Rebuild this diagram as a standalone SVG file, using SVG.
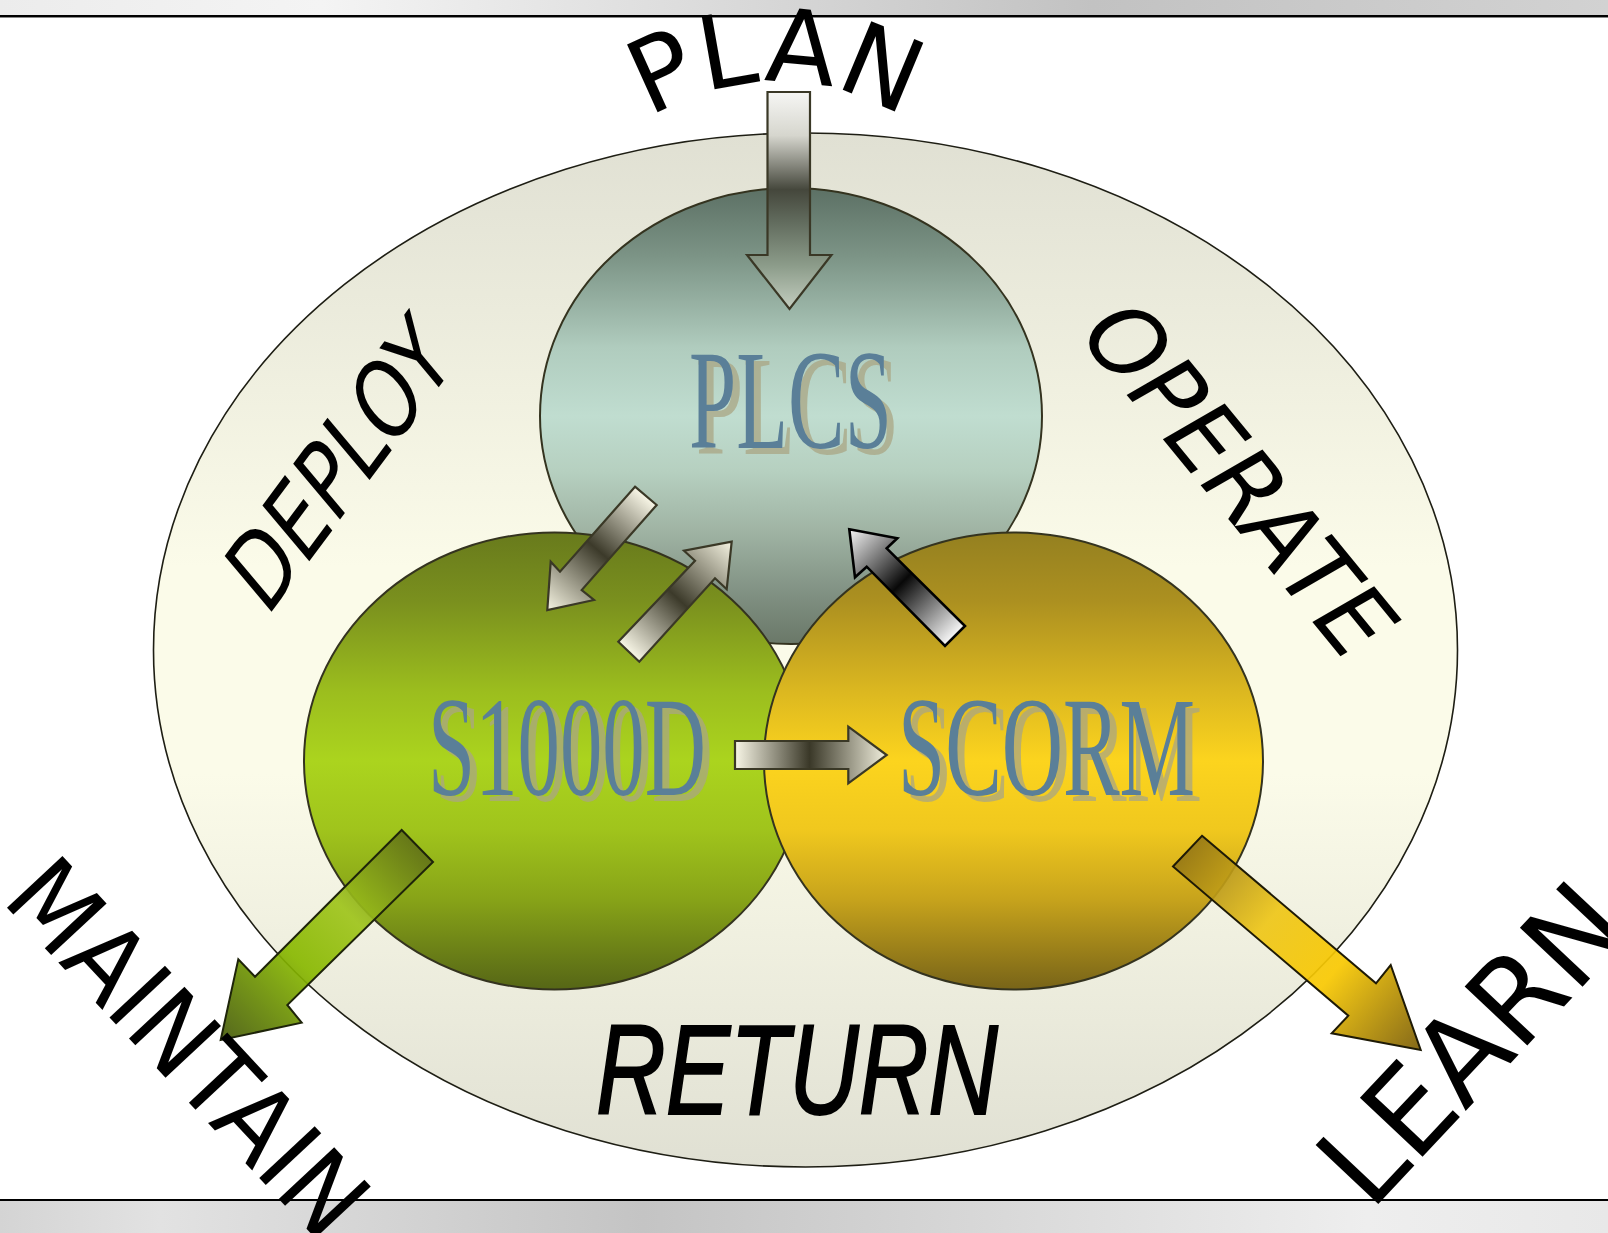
<svg xmlns="http://www.w3.org/2000/svg" width="1608" height="1233" viewBox="0 0 1608 1233">
<style>
.arc{font-family:"DejaVu Sans","Liberation Sans",sans-serif;fill:#000}
.lbl{font-family:"Liberation Serif","Times New Roman",serif;fill:#5a7f98}
.sh{font-family:"Liberation Serif","Times New Roman",serif;fill:#aaa684;opacity:0.75}
.circ{stroke:#34331f;stroke-width:2}
.ar{stroke:#3a3826;stroke-width:2.2;stroke-linejoin:miter}
</style>
<defs>
<linearGradient id="gTop" x1="0" y1="0" x2="1" y2="0">
<stop offset="0" stop-color="#ececec"/><stop offset="0.2" stop-color="#f4f4f4"/><stop offset="0.68" stop-color="#c2c2c2"/><stop offset="1" stop-color="#d2d2d2"/>
</linearGradient>
<linearGradient id="gBot" x1="0" y1="0" x2="1" y2="0">
<stop offset="0" stop-color="#d4d4d4"/><stop offset="0.1" stop-color="#e2e2e2"/><stop offset="0.4" stop-color="#c4c4c4"/><stop offset="0.85" stop-color="#eeeeee"/><stop offset="1" stop-color="#e8e8e8"/>
</linearGradient>
<linearGradient id="gOuter" x1="0" y1="0" x2="0" y2="1">
<stop offset="0" stop-color="#e0e0d3"/><stop offset="0.42" stop-color="#fbfbe9"/><stop offset="0.62" stop-color="#fbfbe9"/><stop offset="1" stop-color="#e0e0d3"/>
</linearGradient>
<linearGradient id="gPlcs" x1="0" y1="0" x2="0" y2="1">
<stop offset="0" stop-color="#5c7064"/><stop offset="0.15" stop-color="#7c9486"/><stop offset="0.35" stop-color="#b0ccbe"/><stop offset="0.5" stop-color="#c0ddd0"/><stop offset="0.62" stop-color="#b6d0c0"/><stop offset="0.75" stop-color="#a0b4a4"/><stop offset="0.9" stop-color="#7e8e80"/><stop offset="1" stop-color="#6a7868"/>
</linearGradient>
<linearGradient id="gS1000d" x1="0" y1="0" x2="0" y2="1">
<stop offset="0" stop-color="#687a1c"/><stop offset="0.15" stop-color="#7a901e"/><stop offset="0.35" stop-color="#9cbe1e"/><stop offset="0.5" stop-color="#abd41e"/><stop offset="0.65" stop-color="#a0c41c"/><stop offset="0.8" stop-color="#88a418"/><stop offset="1" stop-color="#566616"/>
</linearGradient>
<linearGradient id="gScorm" x1="0" y1="0" x2="0" y2="1">
<stop offset="0" stop-color="#948020"/><stop offset="0.15" stop-color="#ac9020"/><stop offset="0.35" stop-color="#dcb820"/><stop offset="0.5" stop-color="#fcd41e"/><stop offset="0.65" stop-color="#f0c81e"/><stop offset="0.8" stop-color="#c8a41c"/><stop offset="1" stop-color="#786418"/>
</linearGradient>
<linearGradient id="gPlan" gradientUnits="userSpaceOnUse" x1="0" y1="92" x2="0" y2="309">
<stop offset="0" stop-color="#f6f6f4"/><stop offset="0.2" stop-color="#d6d6ce"/><stop offset="0.45" stop-color="#45473c"/><stop offset="0.6" stop-color="#626c5e"/><stop offset="0.8" stop-color="#8c9c8a"/><stop offset="1" stop-color="#c4cec0"/>
</linearGradient>
<linearGradient id="gA2" gradientUnits="userSpaceOnUse" x1="646" y1="496" x2="547" y2="610">
<stop offset="0" stop-color="#f8f6e6"/><stop offset="0.48" stop-color="#3c3a2a"/><stop offset="1" stop-color="#f6f4e2"/>
</linearGradient>
<linearGradient id="gA3" gradientUnits="userSpaceOnUse" x1="629" y1="652" x2="732" y2="542">
<stop offset="0" stop-color="#f8f6e6"/><stop offset="0.48" stop-color="#3c3a2a"/><stop offset="1" stop-color="#f6f4e2"/>
</linearGradient>
<linearGradient id="gA4" gradientUnits="userSpaceOnUse" x1="955" y1="636" x2="849" y2="529">
<stop offset="0" stop-color="#f8f8f8"/><stop offset="0.5" stop-color="#080808"/><stop offset="1" stop-color="#f8f8f8"/>
</linearGradient>
<linearGradient id="gA5" gradientUnits="userSpaceOnUse" x1="735" y1="0" x2="887" y2="0">
<stop offset="0" stop-color="#f8f6e6"/><stop offset="0.49" stop-color="#3a3828"/><stop offset="1" stop-color="#f2f0de"/>
</linearGradient>
<linearGradient id="gMaint" gradientUnits="userSpaceOnUse" x1="417" y1="846" x2="221" y2="1040">
<stop offset="0" stop-color="#627218"/><stop offset="0.35" stop-color="#9ec41a"/><stop offset="0.6" stop-color="#88b800"/><stop offset="1" stop-color="#465a0a"/>
</linearGradient>
<linearGradient id="gLearn" gradientUnits="userSpaceOnUse" x1="1187" y1="851" x2="1421" y2="1050">
<stop offset="0" stop-color="#967816"/><stop offset="0.35" stop-color="#eec618"/><stop offset="0.62" stop-color="#f8c800"/><stop offset="1" stop-color="#7a5c06"/>
</linearGradient>
<path id="pPlan" d="M 534 324 A 242 242 0 0 1 1018 324"/>
</defs>

<rect x="0" y="0" width="1608" height="1233" fill="#ffffff"/>
<g id="frame">
<rect x="0" y="0" width="1608" height="15" fill="url(#gTop)"/>
<rect x="0" y="15" width="1608" height="2" fill="#000"/>
<rect x="0" y="17" width="1608" height="1" fill="#888"/>
<rect x="0" y="1199" width="1608" height="2" fill="#000"/>
<rect x="0" y="1201" width="1608" height="32" fill="url(#gBot)"/>
</g>

<g id="node-cycle">
<ellipse cx="805.5" cy="650" rx="652" ry="517" fill="url(#gOuter)" stroke="#1e1e14" stroke-width="1.6"/>
</g>
<g id="node-plcs">
<ellipse class="circ" cx="791" cy="416" rx="251" ry="228" fill="url(#gPlcs)"/>
</g>
<g id="node-s1000d">
<ellipse class="circ" cx="554.5" cy="761" rx="250.5" ry="228.5" fill="url(#gS1000d)"/>
</g>
<g id="node-scorm">
<ellipse class="circ" cx="1013.5" cy="761" rx="249.5" ry="228.5" fill="url(#gScorm)"/>
</g>

<g id="labels">
<text class="sh" x="696" y="454" font-size="142" textLength="203" lengthAdjust="spacingAndGlyphs">PLCS</text>
<text class="lbl" x="689" y="448" font-size="142" textLength="203" lengthAdjust="spacingAndGlyphs">PLCS</text>
<text class="sh" x="435" y="801" font-size="142" textLength="278" lengthAdjust="spacingAndGlyphs">S1000D</text>
<text class="lbl" x="428" y="795" font-size="142" textLength="278" lengthAdjust="spacingAndGlyphs">S1000D</text>
<text class="sh" x="905" y="801" font-size="142" textLength="297" lengthAdjust="spacingAndGlyphs">SCORM</text>
<text class="lbl" x="898" y="795" font-size="142" textLength="297" lengthAdjust="spacingAndGlyphs">SCORM</text>
</g>

<g id="connectors">
<polygon class="ar" fill="url(#gPlan)" points="767.5,92 810,92 810,255 831.5,255 789.5,309 747,255 767.5,255"/>
<polygon class="ar" fill="url(#gA2)" points="635,486.7 656.7,505 581.7,590 594,600 547.3,610 550.7,561.7 560,571.7"/>
<polygon class="ar" fill="url(#gA3)" points="618.3,641.7 639.3,661.7 715,578.3 726.7,589.3 731.7,541.7 684,550.7 695,560.7"/>
<polygon fill="url(#gA4)" stroke="#000" stroke-width="2.6" points="849.3,529.3 897.3,538.3 886.7,548.3 965,626 945,646 866.7,566.7 855,577.3"/>
<polygon class="ar" fill="url(#gA5)" points="735,741 848.3,741 848.3,726.7 886.7,755 848.3,783.3 848.3,769 735,769"/>
<polygon fill="url(#gMaint)" fill-opacity="0.92" stroke="#1e240a" stroke-width="2" points="401.7,830 433,862 287.3,1005 301.7,1022.7 220.7,1040 238.3,959.3 255,976.7"/>
<polygon fill="url(#gLearn)" fill-opacity="0.92" stroke="#1e1a06" stroke-width="2" points="1202,835.8 1376,983.3 1390.7,965 1420.7,1050 1331.7,1033.3 1348.3,1015.7 1173,866.5"/>
</g>

<g id="stage-labels">
<text class="arc" font-size="102"><textPath href="#pPlan" startOffset="50%" text-anchor="middle">PLAN</textPath></text>
<text class="arc" transform="matrix(0.610,0.745,-0.866,0.5,1073.8,330.4)" x="0" y="0" font-size="98">OPERATE</text>
<text class="arc" transform="matrix(0.489,-0.658,0.643,0.766,266.8,618.3)" x="0" y="0" font-size="100">DEPLOY</text>
<text class="arc" transform="translate(189,1047) rotate(47)" x="-235.5" y="38" font-size="104" textLength="471" lengthAdjust="spacingAndGlyphs">MAINTAIN</text>
<text class="arc" transform="translate(1478,1034) rotate(-46.8)" x="-203.5" y="43.7" font-size="118" textLength="385" lengthAdjust="spacingAndGlyphs">LEARN</text>
<text x="596" y="1114" font-family="Liberation Sans, Arial, sans-serif" font-style="italic" font-size="128" stroke="#000" stroke-width="2" textLength="402" lengthAdjust="spacingAndGlyphs">RETURN</text>
</g>
</svg>
